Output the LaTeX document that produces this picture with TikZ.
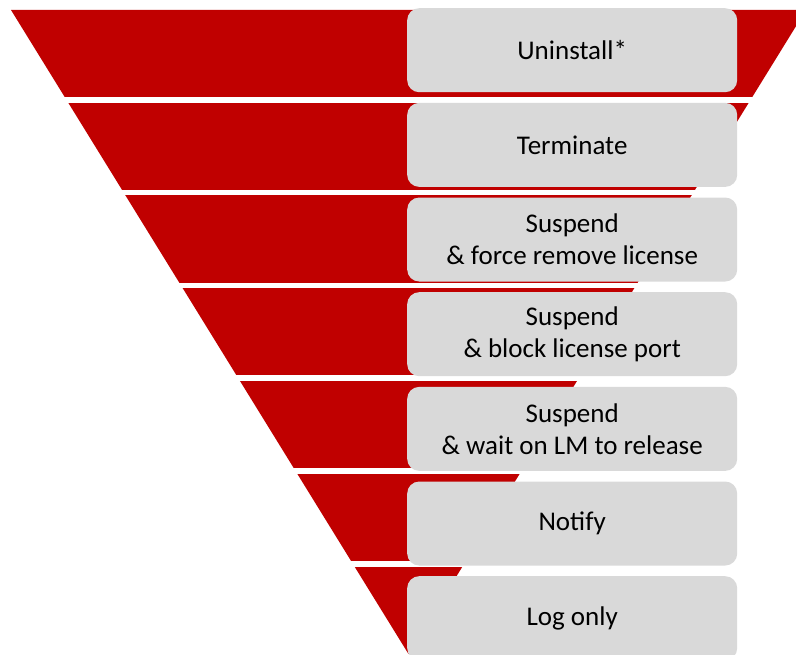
\documentclass[tikz,border=0pt]{standalone}
\usepackage{fontspec}
\setmainfont{Carlito}
\definecolor{funnelred}{HTML}{C00000}
\definecolor{boxgray}{HTML}{D9D9D9}
\tikzset{
  stagebox/.style={fill=boxgray, rounded corners=12pt, minimum width=330pt, minimum height=84pt,
    inner sep=0pt, align=center, text=black, font=\fontsize{27}{32}\selectfont, anchor=north west},
}
\begin{document}
\begin{tikzpicture}[x=1pt,y=-1pt]
\useasboundingbox (0,0) rectangle (796,655);
\clip (0,0) rectangle (796,655);
% funnel
\fill[funnelred] (11,10) -- (806,10) -- (408.5,654) -- cycle;
% white gaps between bands
\foreach \i in {0,...,5} {
  \fill[white] (0,{97+92.8*\i}) rectangle (796,{102.6+92.8*\i});
}
% stage boxes
\node[stagebox] (b1) at (407,8) {Uninstall*};
\node[stagebox] (b2) at (407,102.67) {Terminate};
\node[stagebox] (b3) at (407,197.33) {Suspend\\\& force remove license};
\node[stagebox] (b4) at (407,292) {Suspend\\\& block license port};
\node[stagebox] (b5) at (407,386.67) {Suspend\\\& wait on LM to release};
\node[stagebox] (b6) at (407,481.33) {Notify};
\node[stagebox] (b7) at (407,576) {Log only};
\end{tikzpicture}
\end{document}
